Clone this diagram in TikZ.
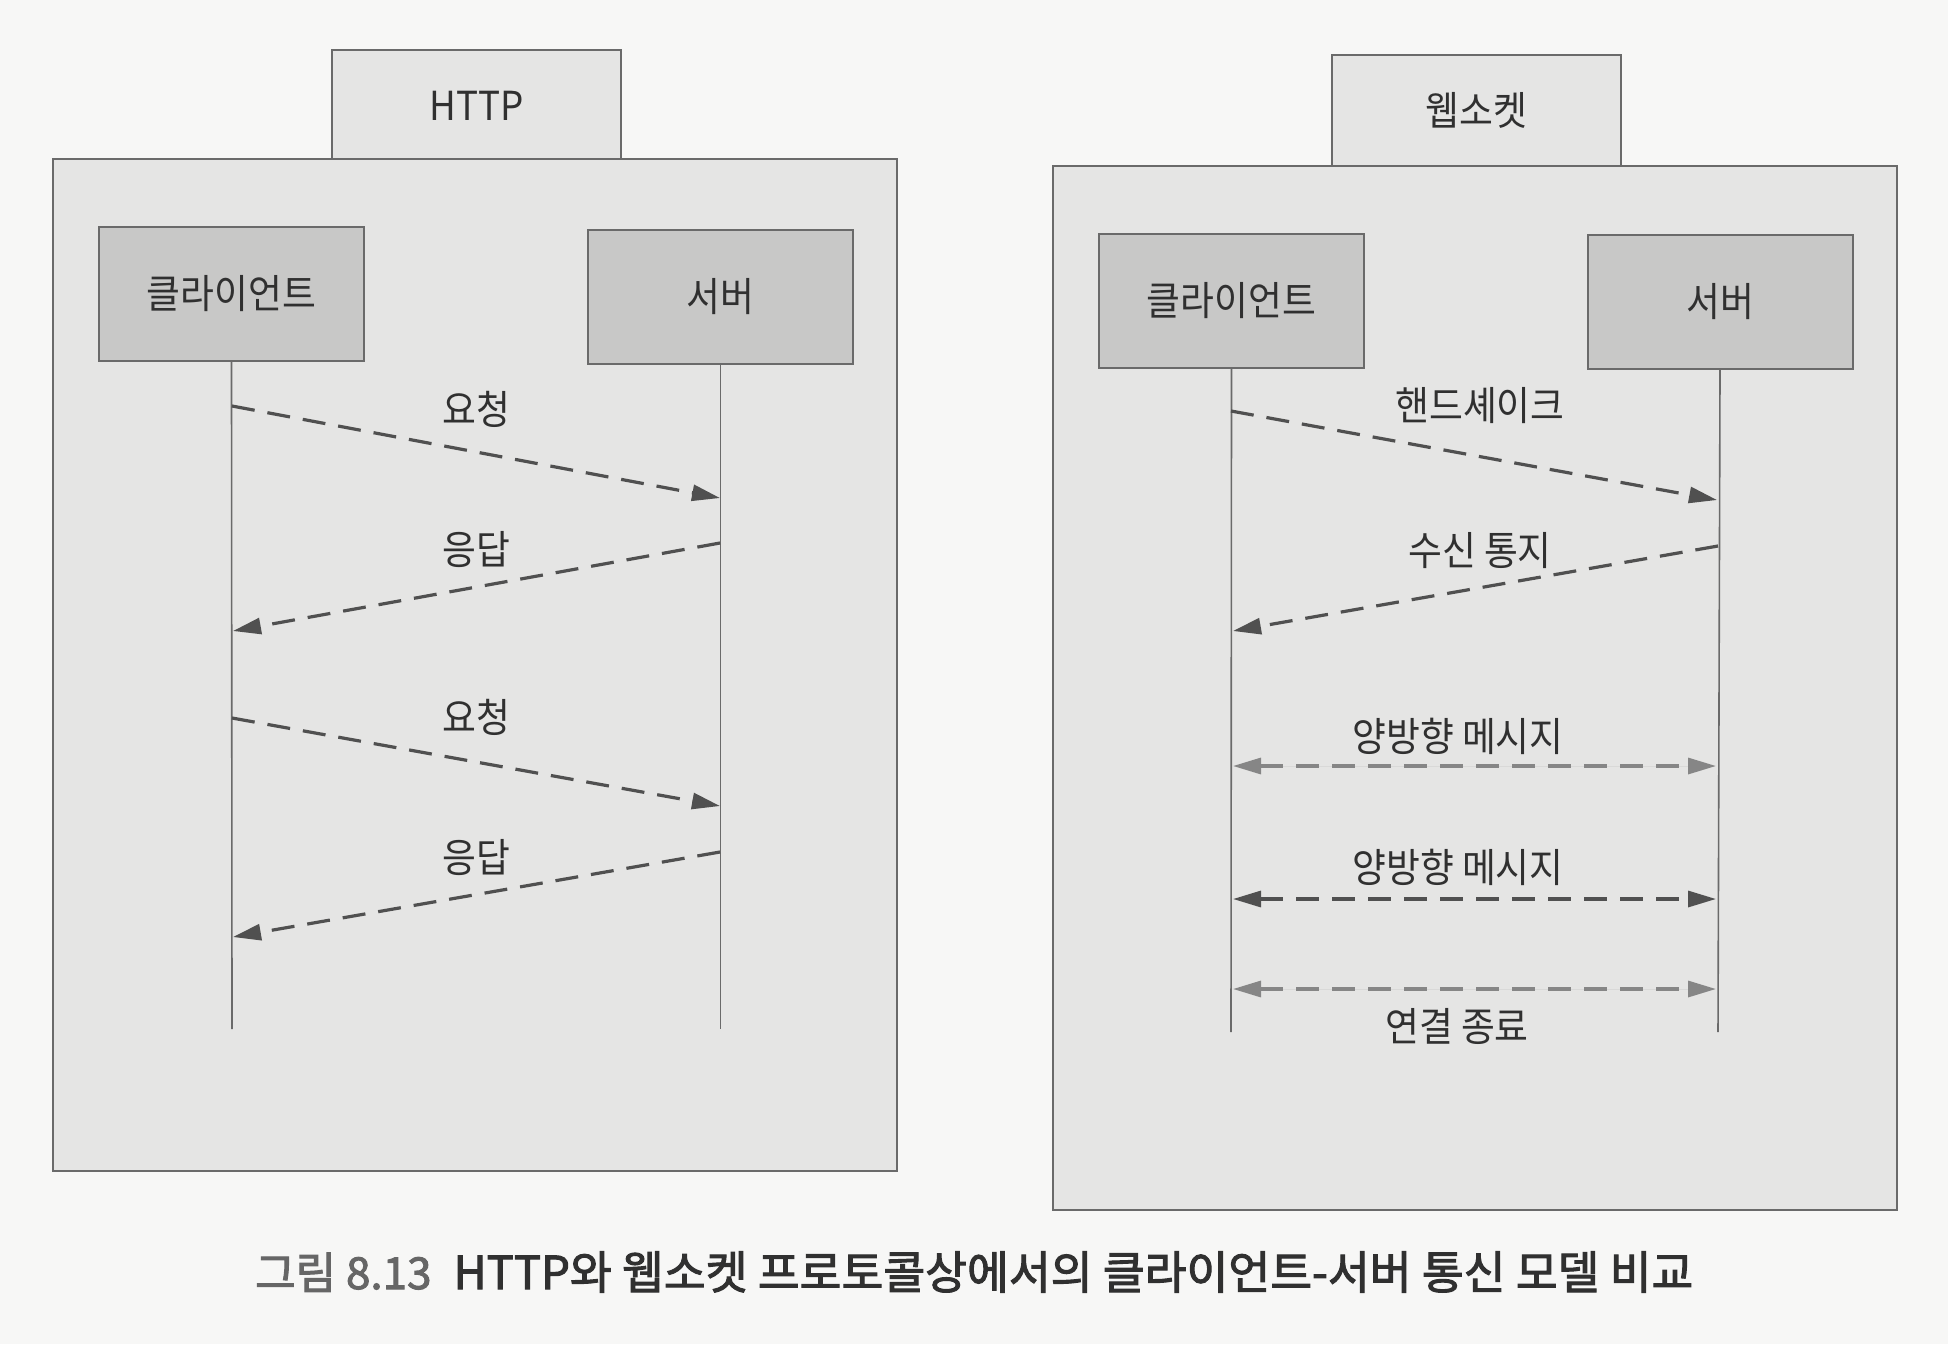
\documentclass[tikz,border=0pt]{standalone}
\usepackage{fontspec}
\setmainfont{Noto Sans CJK KR}[FakeStretch=0.92]
\newfontfamily\capfont{Noto Sans CJK KR}[FakeBold=2.2]
\usetikzlibrary{arrows.meta}
\definecolor{bg}{HTML}{F7F7F6}
\definecolor{panelfill}{HTML}{E5E5E4}
\definecolor{boxfill}{HTML}{C8C8C7}
\definecolor{edgecol}{HTML}{6A6A6A}
\definecolor{inkcol}{HTML}{303030}
\definecolor{arrcol}{HTML}{505050}
\definecolor{arrlight}{HTML}{868686}
\definecolor{capgray}{HTML}{666666}
\begin{document}
\begin{tikzpicture}[x=1pt,y=-1pt,
  panelbox/.style={draw=edgecol,line width=2pt,fill=panelfill,inner sep=0pt,minimum width=844pt},
  tabbox/.style={draw=edgecol,line width=2pt,fill=panelfill,inner sep=0pt,minimum width=289pt,minimum height=111pt,font=\fontsize{40}{48}\selectfont,text=inkcol},
  actorbox/.style={draw=edgecol,line width=2pt,fill=boxfill,inner sep=0pt,minimum width=265pt,minimum height=134pt,font=\fontsize{40}{48}\selectfont,text=inkcol},
  lifeline/.style={draw=edgecol,line width=1.6pt},
  msg/.style={draw=arrcol,line width=3.2pt,dash pattern=on 23pt off 13pt,-{Triangle[length=28pt,width=16pt]}},
  bimsg/.style={msg,{Triangle[length=28pt,width=16pt]}-{Triangle[length=28pt,width=16pt]}},
  lbl/.style={font=\fontsize{40}{48}\selectfont,text=inkcol,inner sep=0pt}]
\fill[bg] (0,0) rectangle (1948,1344);
\useasboundingbox (0,0) rectangle (1948,1344);

% ---------- HTTP panel ----------
\node[tabbox] (httptab) at (476.5,105.5) {HTTP};
\node[panelbox,minimum height=1012pt] (httppanel) at (475,665) {};
\node[actorbox] (hclient) at (231.5,294) {클라이언트};
\node[actorbox] (hserver) at (720.5,297) {서버};
\coordinate (hcend) at (232,1029);
\coordinate (hsend) at (720.5,1029);
\draw[lifeline] (hclient.south) -- (hcend);
\draw[lifeline] (hserver.south) -- (hsend);
\coordinate (h1a) at (232,406);  \coordinate (h1b) at (720,498);
\coordinate (h2a) at (720,543);  \coordinate (h2b) at (233,631);
\coordinate (h3a) at (232,718);  \coordinate (h3b) at (720,806);
\coordinate (h4a) at (720,852);  \coordinate (h4b) at (233,937);
\draw[msg] (h1a) -- (h1b);
\draw[msg] (h2a) -- (h2b);
\draw[msg] (h3a) -- (h3b);
\draw[msg] (h4a) -- (h4b);
\node[lbl] (hl1) at (476,409) {요청};
\node[lbl] (hl2) at (476,550) {응답};
\node[lbl] (hl3) at (476,717) {요청};
\node[lbl] (hl4) at (476,858) {응답};

% ---------- WebSocket panel ----------
\node[tabbox] (wstab) at (1476.5,110) {웹소켓};
\node[panelbox,minimum height=1044pt] (wspanel) at (1475,688) {};
\node[actorbox] (wclient) at (1231.5,301) {클라이언트};
\node[actorbox] (wserver) at (1720,302) {서버};
\coordinate (wcend) at (1231,1032);
\coordinate (wsend) at (1718,1032);
\draw[lifeline] (wclient.south) -- (wcend);
\draw[lifeline] (wserver.south) -- (wsend);
\coordinate (w1a) at (1231,411);  \coordinate (w1b) at (1717,500);
\coordinate (w2a) at (1718,546);  \coordinate (w2b) at (1233,631);
\coordinate (w3a) at (1233,766);  \coordinate (w3b) at (1716,766);
\coordinate (w4a) at (1233,899);  \coordinate (w4b) at (1716,899);
\coordinate (w5a) at (1233,989);  \coordinate (w5b) at (1716,989);
\draw[msg] (w1a) -- (w1b);
\draw[msg] (w2a) -- (w2b);
\draw[bimsg,draw=arrlight,fill=arrlight] (w3a) -- (w3b);
\draw[bimsg] (w4a) -- (w4b);
\draw[bimsg,draw=arrlight,fill=arrlight] (w5a) -- (w5b);
\node[lbl] (wl1) at (1480,406) {핸드셰이크};
\node[lbl] (wl2) at (1480,551) {수신 통지};
\node[lbl] (wl3) at (1458,736) {양방향 메시지};
\node[lbl] (wl4) at (1458,867) {양방향 메시지};
\node[lbl] (wl5) at (1457,1026) {연결 종료};

% ---------- caption ----------
\node[anchor=west,inner sep=0pt,font=\capfont\fontsize{44}{52}\selectfont] (caption) at (255,1272)
  {\textcolor{capgray}{그림 8.13}\hspace{22pt}\textcolor{inkcol}{\fontsize{45.5}{52}\selectfont HTTP와 웹소켓 프로토콜상에서의 클라이언트-서버 통신 모델 비교}};
\end{tikzpicture}
\end{document}
